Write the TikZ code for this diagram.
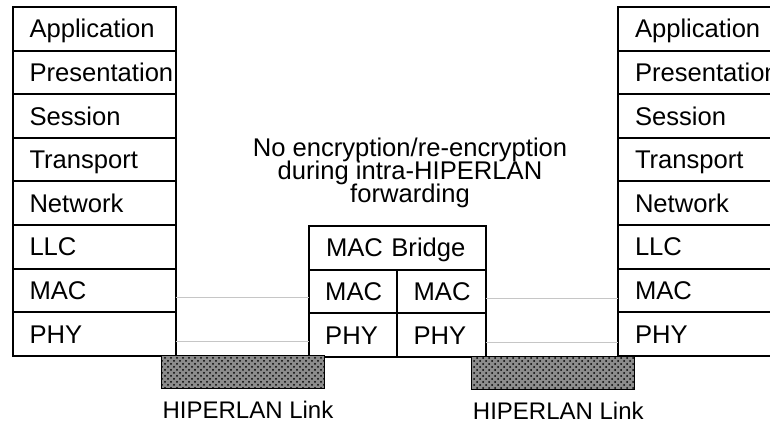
\documentclass[tikz,border=0pt]{standalone}
\usepackage{fontspec}
\setmainfont{Liberation Sans}
\usetikzlibrary{positioning, patterns}
\newcommand\stackfont{\fontsize{12.8pt}{11.5pt}\selectfont\lineskiplimit=-20pt\relax}

\begin{document}
\begin{tikzpicture}[
  font=\stackfont,
  every node/.style={outer sep=0pt},
  layer/.style={draw, line width=1pt, text width=64.5pt, inner xsep=8.5pt, inner ysep=0pt,
    minimum height=21.8pt, text height=9.2pt, text depth=0pt, align=left},
  bridge/.style={layer, text width=71.5pt},
  half/.style={layer, text width=28pt, inner xsep=8.1pt},
  link/.style={draw, line width=0.6pt, minimum width=81.5pt, minimum height=16.5pt, inner sep=0pt,
    preaction={fill=black!45}, pattern=crosshatch dots, pattern color=black},
  tag/.style={inner sep=0pt, font=\fontsize{12pt}{14pt}\selectfont, text height=8.6pt, text depth=0pt},
  wire/.style={gray!45, line width=0.6pt}
]
\path[clip] (0,0) rectangle (385pt,210.5pt);
% end station, left
\node[layer, anchor=north west] (appL) at (6.25pt,207pt) {Application};
\node[layer, below=0pt of appL] (preL) {Presentation};
\node[layer, below=0pt of preL] (sesL) {Session};
\node[layer, below=0pt of sesL] (traL) {Transport};
\node[layer, below=0pt of traL] (netL) {Network};
\node[layer, below=0pt of netL] (llcL) {LLC};
\node[layer, below=0pt of llcL] (macL) {MAC};
\node[layer, below=0pt of macL] (phyL) {PHY};
% end station, right
\node[layer, anchor=north west] (appR) at (309pt,207pt) {Application};
\node[layer, below=0pt of appR] (preR) {Presentation};
\node[layer, below=0pt of preR] (sesR) {Session};
\node[layer, below=0pt of sesR] (traR) {Transport};
\node[layer, below=0pt of traR] (netR) {Network};
\node[layer, below=0pt of netR] (llcR) {LLC};
\node[layer, below=0pt of llcR] (macR) {MAC};
\node[layer, below=0pt of macR] (phyR) {PHY};
% forwarding station
\node[bridge, anchor=north west] (brg) at (154.5pt,97.5pt) {MAC Bridge};
\node[half, below right=0pt of brg.south west] (bmacA) {MAC};
\node[half, right=0pt of bmacA] (bmacB) {MAC};
\node[half, below=0pt of bmacA] (bphyA) {PHY};
\node[half, below=0pt of bmacB] (bphyB) {PHY};
\node[align=center, inner sep=0pt, above=9pt of brg, xshift=6.25pt] (note)
  {No encryption/re-encryption\\ during intra-HIPERLAN\\ forwarding};
% radio links
\node[link, below right=0pt and -7pt of phyL.south east] (linkA) {};
\node[link, below right=0pt and -7pt of bphyB.south east] (linkB) {};
\node[tag, below=6.5pt of linkA, xshift=2.5pt] (labA) {HIPERLAN Link};
\node[tag, below=6.5pt of linkB, xshift=2.5pt] (labB) {HIPERLAN Link};
% peer levels
\coordinate (mA) at ([yshift=-3.75pt]macL.east);
\coordinate (pA) at ([yshift=-3.75pt]phyL.east);
\coordinate (mB) at ([yshift=-3.75pt]bmacB.east);
\coordinate (pB) at ([yshift=-3.75pt]bphyB.east);
\draw[wire] (mA) -- (mA -| bmacA.west);
\draw[wire] (pA) -- (pA -| bphyA.west);
\draw[wire] (mB) -- (mB -| macR.west);
\draw[wire] (pB) -- (pB -| phyR.west);
\end{tikzpicture}
\end{document}
